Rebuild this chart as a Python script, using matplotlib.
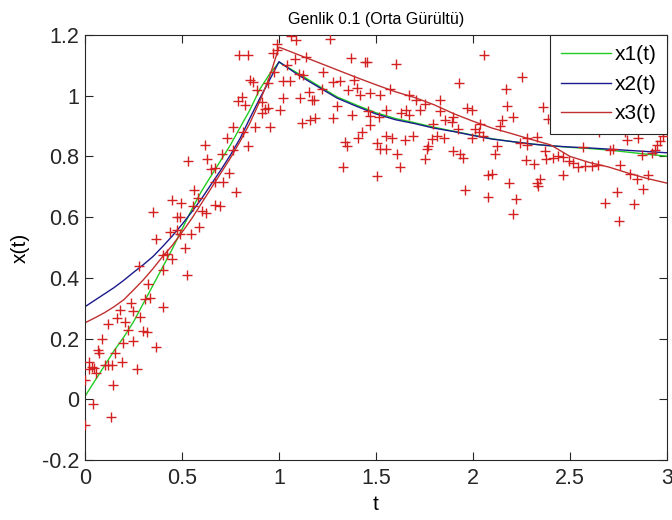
import matplotlib
matplotlib.use("Agg")
import matplotlib.pyplot as plt

plt.rcParams["font.family"] = ["Liberation Sans", "DejaVu Sans"]

# model curves
t_curve = [0.0, 0.05, 0.1, 0.15, 0.2, 0.25, 0.3, 0.35, 0.4, 0.45, 0.5,
           0.55, 0.6, 0.65, 0.7, 0.75, 0.8, 0.85, 0.9, 0.95, 1.0,
           1.1, 1.2, 1.3, 1.4, 1.5, 1.6, 1.7, 1.8, 1.9, 2.0,
           2.1, 2.2, 2.3, 2.4, 2.5, 2.6, 2.7, 2.8, 2.9, 3.0]
x1 = [0.01, 0.06, 0.11, 0.16, 0.205, 0.255, 0.315, 0.375, 0.435, 0.495, 0.56,
      0.625, 0.685, 0.736, 0.787, 0.838, 0.896, 0.953, 1.02, 1.07, 1.11,
      1.073, 1.034, 0.996, 0.969, 0.944, 0.925, 0.911, 0.896, 0.883, 0.870,
      0.858, 0.849, 0.841, 0.835, 0.83, 0.826, 0.821, 0.814, 0.807, 0.801]
x2 = [0.305, 0.326, 0.347, 0.368, 0.392, 0.418, 0.443, 0.47, 0.503, 0.538, 0.576,
      0.617, 0.66, 0.708, 0.755, 0.805, 0.86, 0.926, 0.99, 1.05, 1.112,
      1.068, 1.03, 0.992, 0.965, 0.94, 0.921, 0.908, 0.893, 0.882, 0.869,
      0.857, 0.849, 0.841, 0.835, 0.831, 0.828, 0.824, 0.82, 0.816, 0.812]
x3 = [0.252, 0.268, 0.285, 0.305, 0.328, 0.36, 0.393, 0.43, 0.47, 0.507, 0.55,
      0.595, 0.645, 0.695, 0.745, 0.795, 0.85, 0.91, 0.98, 1.06, 1.16,
      1.135, 1.11, 1.085, 1.06, 1.036, 1.013, 0.994, 0.97, 0.941, 0.916,
      0.893, 0.875, 0.856, 0.838, 0.80, 0.78, 0.765, 0.745, 0.727, 0.712]

# noisy measurements
t_meas = [0.0, 0.0, 0.04, 0.022, 0.034, 0.022, 0.046, 0.057, 0.069, 0.074,
          0.086, 0.103, 0.12, 0.137, 0.146, 0.132, 0.12, 0.155, 0.189, 0.235,
          0.18, 0.246, 0.284, 0.167, 0.206, 0.223, 0.3, 0.318, 0.198, 0.249,
          0.27, 0.366, 0.327, 0.335, 0.309,
          0.4, 0.278, 0.364, 0.352, 0.404, 0.404, 0.421, 0.45, 0.438, 0.447,
          0.493, 0.473, 0.49, 0.473, 0.49, 0.515, 0.527, 0.546, 0.558, 0.563,
          0.58, 0.588, 0.533, 0.603, 0.626,
          1.06, 1.09, 0.991, 0.97, 0.99, 0.795, 0.842, 0.974, 1.043, 1.082,
          1.139, 0.85, 0.865, 0.945, 1.019, 1.057, 1.105, 1.122, 0.888, 0.807,
          0.79, 0.825, 0.91, 0.928, 0.91, 0.945, 1.005, 1.019, 1.108, 1.156,
          1.168, 1.18, 1.16, 1.185, 1.117, 0.876, 0.954, 0.761, 0.73, 0.812,
          0.618, 0.842, 0.704, 0.764, 0.63, 0.67, 0.648, 0.744, 0.713, 0.67,
          0.778, 0.67, 0.696,
          1.263, 1.37, 1.443, 1.455, 1.603, 1.225, 1.277, 1.314, 1.387, 1.22,
          1.357, 1.4, 1.418, 1.469, 1.521, 1.572, 1.672, 1.706, 1.753, 1.297,
          1.551, 1.461, 1.63, 1.657, 1.727, 1.672, 1.277, 1.374, 1.469, 1.517,
          1.469, 1.426, 1.409, 1.34, 1.352, 1.503, 1.551, 1.585, 1.522, 1.551,
          1.61, 1.65, 1.689, 1.765, 1.753, 1.328, 1.624, 1.503,
          2.057, 2.251, 1.93, 2.17, 1.83, 2.177, 2.359, 1.967, 1.993, 1.83,
          2.208, 2.148, 1.898, 1.856, 1.89, 1.792, 2.036, 2.139, 1.924, 2.01,
          2.032, 1.813, 1.851, 1.993, 2.053, 1.787, 2.242, 2.279, 2.328, 2.277,
          1.77, 2.122, 1.895, 1.95, 1.933, 2.113, 2.371, 2.273, 2.314, 2.376,
          2.079, 2.096, 2.187, 2.328, 2.345, 2.337, 1.958, 2.079, 2.22, 2.204,
          2.388, 2.651, 2.784, 2.796, 2.852, 2.981, 2.964, 2.947, 2.569, 2.706,
          2.72, 2.869, 2.921, 2.938, 2.414, 2.44, 2.466, 2.497, 2.517, 2.543,
          2.577, 2.611, 2.646, 2.466, 2.758, 2.81, 2.845, 2.9, 2.744, 2.878,
          2.68, 2.83, 2.753]
x_meas = [-0.085, 0.063, -0.016, 0.124, 0.105, 0.099, 0.102, 0.085, 0.162, 0.151,
          0.2, 0.113, 0.113, 0.113, 0.047, -0.057, 0.248, 0.151, 0.124, 0.316,
          0.294, 0.292, 0.272, 0.267, 0.253, 0.228, 0.226, 0.223, 0.186, 0.193,
          0.099, 0.173, 0.38, 0.333, 0.33,
          0.305, 0.439, 0.527, 0.616, 0.426, 0.475, 0.48, 0.461, 0.55, 0.656,
          0.646, 0.6, 0.6, 0.557, 0.545, 0.5, 0.41, 0.545, 0.636, 0.689,
          0.662, 0.567, 0.786, 0.62, 0.615,
          1.197, 1.184, 1.172, 1.14, 1.149, 1.134, 1.134, 1.079, 1.1, 1.12,
          1.128, 1.052, 1.046, 1.043, 1.05, 1.05, 1.073, 1.068, 1.019, 0.997,
          0.984, 0.97, 0.98, 0.955, 0.944, 0.96, 0.953, 0.991, 0.991, 1.013,
          0.985, 0.985, 0.92, 0.926, 0.909, 0.896, 0.898, 0.896, 0.86, 0.882,
          0.838, 0.833, 0.808, 0.82, 0.793, 0.761, 0.758, 0.746, 0.717, 0.717,
          0.684, 0.64, 0.637,
          1.186, 1.123, 1.112, 1.112, 1.104, 1.079, 1.046, 1.048, 1.053, 1.021,
          1.019, 1.027, 1.002, 1.008, 1.002, 1.021, 1.002, 0.985, 0.972, 0.965,
          0.953, 0.95, 0.942, 0.953, 0.953, 0.937, 0.926, 0.937, 0.933, 0.929,
          0.903, 0.882, 0.86, 0.848, 0.833, 0.844, 0.868, 0.86, 0.826, 0.826,
          0.808, 0.855, 0.866, 0.826, 0.793, 0.766, 0.764, 0.736,
          1.134, 1.063, 1.043, 1.021, 0.986, 0.966, 0.962, 0.958, 0.953, 0.949,
          0.929, 0.92, 0.929, 0.92, 0.912, 0.908, 0.908, 0.9, 0.889, 0.889,
          0.88, 0.867, 0.862, 0.862, 0.867, 0.856, 0.845, 0.862, 0.865, 0.837,
          0.834, 0.834, 0.818, 0.796, 0.807, 0.807, 0.818, 0.789, 0.775, 0.791,
          0.739, 0.742, 0.714, 0.712, 0.727, 0.701, 0.689, 0.668, 0.659, 0.61,
          0.922, 0.881, 0.881, 0.853, 0.86, 0.866, 0.85, 0.839, 0.832, 0.82,
          0.826, 0.804, 0.81, 0.82, 0.796, 0.8, 0.797, 0.786, 0.78, 0.766,
          0.77, 0.77, 0.773, 0.739, 0.773, 0.742, 0.727, 0.739, 0.684, 0.692,
          0.647, 0.643, 0.588]

x_ticks = [0, 0.5, 1, 1.5, 2, 2.5, 3]
x_ticklabels = ["0", "0.5", "1", "1.5", "2", "2.5", "3"]
y_ticks = [-0.2, 0, 0.2, 0.4, 0.6, 0.8, 1.0, 1.2]
y_ticklabels = ["-0.2", "0", "0.2", "0.4", "0.6", "0.8", "1", "1.2"]

fig = plt.figure(figsize=(6.72, 5.2), dpi=100)
ax = fig.add_axes([85 / 672, 60 / 520, 582 / 672, 425 / 520])

ax.plot(t_curve, x1, color="#22cc22", lw=1.0, label="x1(t)")
ax.plot(t_curve, x2, color="#1a1a8c", lw=1.0, label="x2(t)")
ax.plot(t_curve, x3, color="#c03030", lw=1.0, label="x3(t)")
ax.plot(t_meas, x_meas, "+", color="#d42222", ms=7.5, mew=1.0, zorder=3)

ax.set_xlim(0, 3)
ax.set_ylim(-0.2, 1.2)
ax.set_xticks(x_ticks, x_ticklabels)
ax.set_yticks(y_ticks, y_ticklabels)
ax.tick_params(direction="in", length=6, labelsize=15.5, top=True, right=True,
               colors="#262626")
ax.tick_params(axis="x", pad=6)
ax.tick_params(axis="y", pad=4)
for s in ax.spines.values():
    s.set_color("#262626")

ax.set_xlabel("t", fontsize=15, labelpad=4)
ax.set_ylabel("x(t)", fontsize=15, labelpad=9)
ax.set_title("Genlik 0.1 (Orta Gürültü)", fontsize=11.5, pad=8)

leg = ax.legend(loc="upper right", fontsize=15, handlelength=2.4, borderaxespad=0,
                fancybox=False, framealpha=1, edgecolor="#262626",
                labelspacing=0.5, borderpad=0.5, handletextpad=0.2)
leg.get_frame().set_linewidth(0.8)

fig.savefig("out.png", dpi=100)
